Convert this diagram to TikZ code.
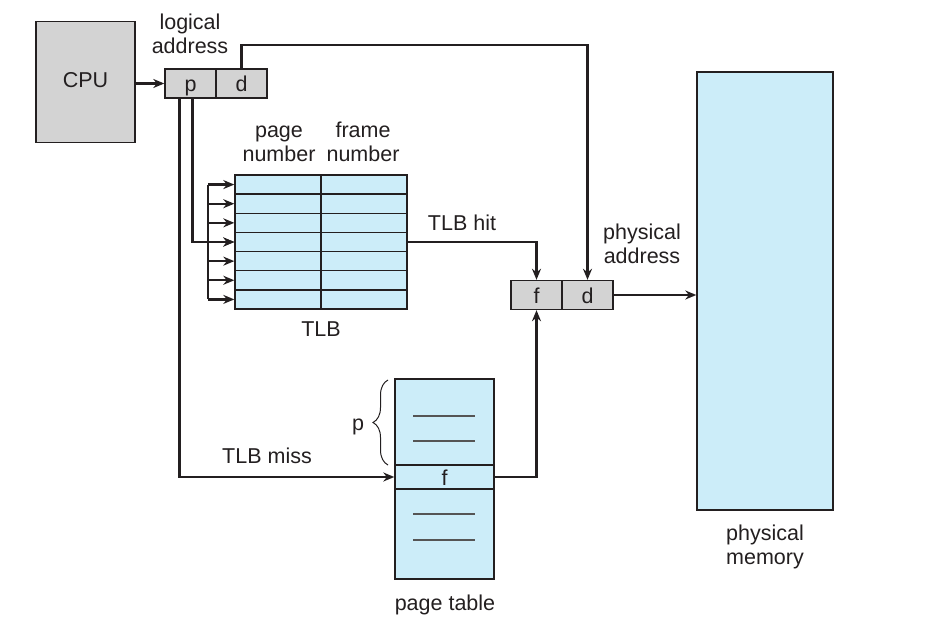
\documentclass[tikz,border=0pt]{standalone}
\usepackage{fontspec}
\setmainfont{Liberation Sans}
\usetikzlibrary{arrows.meta,decorations.pathreplacing,calc}
\definecolor{ink}{HTML}{231F20}
\definecolor{boxgray}{HTML}{D3D3D3}
\definecolor{lblue}{HTML}{CCEDF9}
\definecolor{rulegray}{HTML}{555555}
\begin{document}
\begin{tikzpicture}[x=1pt,y=-1pt,
  font=\fontsize{21.5}{24}\selectfont,
  every node/.style={text=ink},
  graycell/.style={draw=ink, line width=1.4pt, fill=boxgray, inner sep=0pt,
    minimum width=51pt, minimum height=29pt, text height=17pt, text depth=1pt},
  tlbcell/.style={draw=ink, line width=1.4pt, fill=lblue, inner sep=0pt,
    minimum width=86pt, minimum height=19.14pt},
  bluebox/.style={draw=ink, line width=1.4pt, fill=lblue, inner sep=0pt},
  lbl/.style={inner sep=0pt, anchor=base},
  lbl2/.style={inner sep=0pt, align=center},
  wire/.style={draw=ink, line width=2.4pt},
  conn/.style={wire, -{Stealth[length=11pt,width=9pt]}},
  shortrule/.style={draw=rulegray, line width=1.4pt}]
\useasboundingbox (0,0) rectangle (945,626);

% CPU
\node[draw=ink, line width=1.4pt, fill=boxgray, inner sep=0pt,
  minimum width=99pt, minimum height=121pt, text height=15pt, text depth=3pt]
  (cpu) at (85.5,82) {CPU};

% logical address
\node[graycell] (lp) at (190.5,83.5) {p};
\node[graycell] (ld) at (241.5,83.5) {d};
\node[lbl2] (lalbl) at (190,34) {logical\\address};

% TLB
\foreach \i in {1,...,7} {
  \node[tlbcell] (pn\i) at (278,{175+19.14*(\i-0.5)}) {};
  \node[tlbcell] (fn\i) at (364,{175+19.14*(\i-0.5)}) {};
  \coordinate (bus\i) at (208,{175+19.14*(\i-0.5)});
}
\node[lbl2] (pnlbl) at (279,144) {page\\number};
\node[lbl2] (fnlbl) at (363,142) {frame\\number};
\node[lbl] (tlblbl) at (321,336) {TLB};

% physical address
\node[graycell] (ff) at (536.5,295) {f};
\node[graycell] (fd) at (587.5,295) {d};
\node[lbl2] (palbl) at (642,244) {physical\\address};

% physical memory
\node[bluebox, minimum width=136pt, minimum height=438pt] (mem) at (765,291) {};
\node[lbl2] (pmlbl) at (765,546.5) {physical\\memory};

% page table
\node[bluebox, minimum width=99pt, minimum height=200pt] (pt) at (444.5,479) {};
\node[bluebox, minimum width=99pt, minimum height=24pt, text height=17pt, text depth=1pt] (pf) at (444.5,477) {f};
\draw[shortrule] (413,416) -- (475,416);
\draw[shortrule] (413,441) -- (475,441);
\draw[shortrule] (413,514) -- (475,514);
\draw[shortrule] (413,540) -- (475,540);
\node[lbl] (ptlbl) at (445,610) {page table};

% brace
\draw[draw=ink, line width=1pt, decorate, decoration={brace, amplitude=15pt}]
  (388,465) -- (388,380);
\node[lbl] (plbl) at (358,430) {p};

% connectors
\draw[conn] (cpu.east |- lp.west) -- (lp.west);
\coordinate (dtop) at (241.5,45);
\draw[conn] (ld.north) -- (dtop) -| (fd.north);
\draw[wire] (bus1) -- (bus7);
\foreach \i in {1,...,7} {
  \draw[conn] (bus\i) -- (pn\i.west);
}
\draw[conn] ($(lp.south west)+(28,0)$) |- (pn4.west);
\draw[conn] ($(lp.south west)+(15,0)$) |- (pf.west);
\draw[conn] (fn4.east) -| (ff.north);
\draw[conn] (pf.east) -| (ff.south);
\draw[conn] (fd.east) -- (mem.west |- fd.east);

\node[lbl] (hitlbl) at (462,230.7) {TLB hit};
\node[lbl] (misslbl) at (267,463) {TLB miss};
\end{tikzpicture}
\end{document}
